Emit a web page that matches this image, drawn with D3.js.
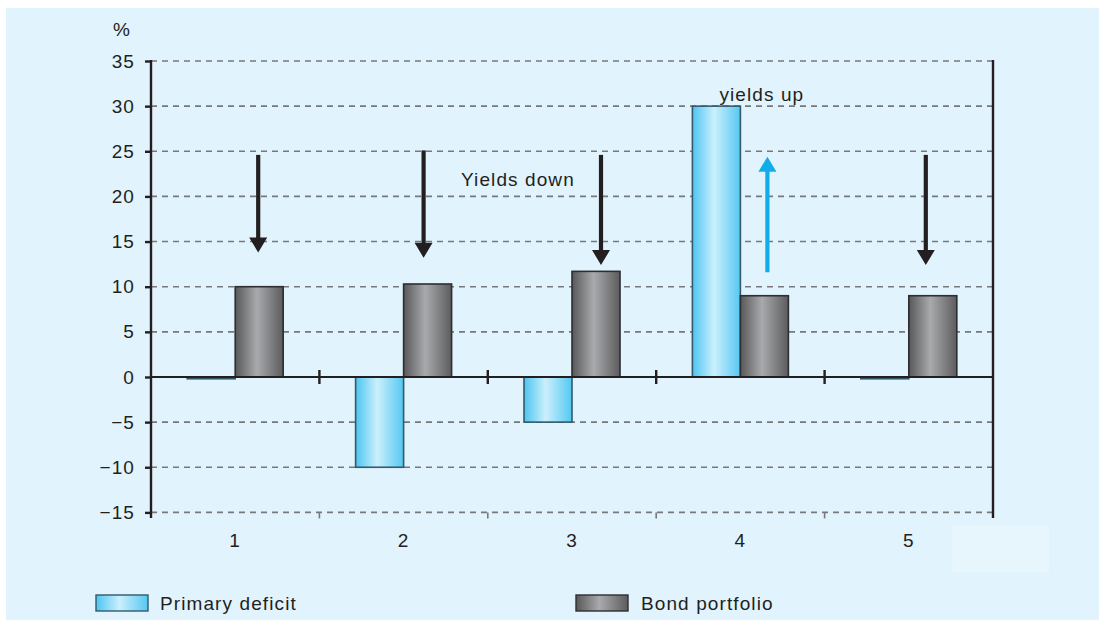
<!DOCTYPE html>
<html>
<head>
<meta charset="utf-8">
<script src="https://cdn.jsdelivr.net/npm/d3@7/dist/d3.min.js"></script>
<style>
  html, body { margin: 0; padding: 0; background: #ffffff; }
  svg { display: block; font-family: "Liberation Sans", Arial, Helvetica, sans-serif; }
  svg text { letter-spacing: 1.1px; }
</style>
</head>
<body>
<svg id="chart" width="1099" height="620"></svg>
<script>
// Scenario numbers (per cent)
const categories = ["1", "2", "3", "4", "5"];
const seriesNames = ["Primary deficit", "Bond portfolio"];
const primaryDeficit = [-0.2, -10, -5, 30, -0.2];
const bondPortfolio = [10, 10.3, 11.7, 9, 9];
const yTicks = [35, 30, 25, 20, 15, 10, 5, 0, -5, -10, -15];

// Yield-direction arrows: category, horizontal shift inside band (px), from value, to value
const downArrows = [
  { cat: "1", dx: 23, from: 24.6, to: 13.8 },
  { cat: "2", dx: 20, from: 25.1, to: 13.2 },
  { cat: "3", dx: 29, from: 24.6, to: 12.4 },
  { cat: "5", dx: 17, from: 24.6, to: 12.4 }
];
const upArrows = [
  { cat: "4", dx: 27, from: 11.6, to: 24.4 }
];
const notes = [
  { text: "Yields down", cat: "3", dx: -111, value: 21.2 },
  { text: "yields up", cat: "4", dx: -21, value: 30.6 }
];

const FONT = 19;
const svg = d3.select("#chart");
const defs = svg.append("defs");

function addGradient(id, edgeL, mid, edgeR) {
  const g = defs.append("linearGradient").attr("id", id)
    .attr("x1", "0%").attr("x2", "100%").attr("y1", "0%").attr("y2", "0%");
  g.append("stop").attr("offset", "0%").attr("stop-color", edgeL);
  g.append("stop").attr("offset", "45%").attr("stop-color", mid);
  g.append("stop").attr("offset", "100%").attr("stop-color", edgeR);
}
addGradient("gradBlue", "#4cc5f1", "#cbeffc", "#55c8f2");
addGradient("gradGray", "#58585a", "#a9aaad", "#5c5c5e");

const fills = ["url(#gradBlue)", "url(#gradGray)"];
const borders = ["#33596a", "#2e2e30"];

// background panel
svg.append("rect").attr("x", 6).attr("y", 8).attr("width", 1093).attr("height", 612)
  .attr("fill", "#e1f3fd");
svg.append("rect").attr("x", 952).attr("y", 526).attr("width", 97).attr("height", 46)
  .attr("fill", "#e6f6fc");

const left = 151, right = 993;
const y = d3.scaleLinear().domain([-15, 35]).range([512.4, 61]);
const x0 = d3.scaleBand().domain(categories).range([left, right]).padding(0);
const groupW = 96;
const x1 = d3.scaleBand().domain(seriesNames).range([0, groupW]).padding(0);
const groupX = c => x0(c) + x0.bandwidth() / 2 - groupW / 2;

// dashed grid lines
svg.append("g").selectAll("line").data(yTicks.filter(v => v !== 0)).join("line")
  .attr("x1", left).attr("x2", right)
  .attr("y1", d => y(d)).attr("y2", d => y(d))
  .attr("stroke", "#77787b").attr("stroke-width", 1.6)
  .attr("stroke-dasharray", "6,5");

// y axis
const yAxis = d3.axisLeft(y).tickValues(yTicks).tickSize(6).tickPadding(10)
  .tickFormat(d => d < 0 ? "\u2212" + Math.abs(d) : d);
const ya = svg.append("g").attr("transform", `translate(${left},0)`).call(yAxis);
ya.select(".domain").remove();
ya.selectAll(".tick line").attr("stroke", "#231f20").attr("stroke-width", 2.4);
ya.selectAll(".tick text").attr("fill", "#231f20").attr("font-size", FONT)
  .attr("font-family", "Liberation Sans, Arial, sans-serif");

svg.append("line").attr("x1", left).attr("x2", left).attr("y1", y(35) - 1).attr("y2", 518)
  .attr("stroke", "#231f20").attr("stroke-width", 2.4);
svg.append("line").attr("x1", right).attr("x2", right).attr("y1", y(35) - 1).attr("y2", 518)
  .attr("stroke", "#231f20").attr("stroke-width", 2.4);

svg.append("text").attr("x", 122).attr("y", 36).attr("text-anchor", "middle")
  .attr("font-size", FONT).attr("fill", "#231f20").text("%");

// bars
const rows = categories.map((c, i) => ({ cat: c, values: [primaryDeficit[i], bondPortfolio[i]] }));
const grp = svg.append("g").selectAll("g").data(rows).join("g")
  .attr("transform", d => `translate(${groupX(d.cat)},0)`);
grp.selectAll("rect").data(d => d.values.map((v, k) => ({ v, k }))).join("rect")
  .attr("x", d => x1(seriesNames[d.k]))
  .attr("width", x1.bandwidth())
  .attr("y", d => y(Math.max(0, d.v)))
  .attr("height", d => Math.abs(y(d.v) - y(0)))
  .attr("fill", d => fills[d.k])
  .attr("stroke", d => borders[d.k]).attr("stroke-width", 1.6);

// zero axis and category separators
svg.append("line").attr("x1", left).attr("x2", right).attr("y1", y(0)).attr("y2", y(0))
  .attr("stroke", "#231f20").attr("stroke-width", 2.2);
const seps = categories.slice(1).map(c => x0(c));
svg.append("g").selectAll("line").data(seps).join("line")
  .attr("x1", d => d).attr("x2", d => d)
  .attr("y1", y(0) - 7).attr("y2", y(0) + 7)
  .attr("stroke", "#231f20").attr("stroke-width", 2.4);
svg.append("g").selectAll("line").data(seps).join("line")
  .attr("x1", d => d).attr("x2", d => d)
  .attr("y1", y(-15)).attr("y2", y(-15) + 6)
  .attr("stroke", "#77787b").attr("stroke-width", 1.6);

// category labels
svg.append("g").selectAll("text").data(categories).join("text")
  .attr("x", d => x0(d) + x0.bandwidth() / 2).attr("y", 547)
  .attr("text-anchor", "middle").attr("font-size", FONT).attr("fill", "#231f20")
  .text(d => d);

// arrows
function drawArrow(a, color) {
  const cx = x0(a.cat) + x0.bandwidth() / 2 + a.dx;
  const y1 = y(a.from), y2 = y(a.to);
  const dir = y2 > y1 ? 1 : -1;
  const headH = 15, headW = 9;
  svg.append("line").attr("x1", cx).attr("x2", cx).attr("y1", y1).attr("y2", y2 - dir * headH + dir)
    .attr("stroke", color).attr("stroke-width", 4.2);
  svg.append("path")
    .attr("d", `M${cx - headW},${y2 - dir * headH} L${cx + headW},${y2 - dir * headH} L${cx},${y2} Z`)
    .attr("fill", color);
}
downArrows.forEach(a => drawArrow(a, "#231f20"));
upArrows.forEach(a => drawArrow(a, "#12ade8"));

// notes
svg.append("g").selectAll("text").data(notes).join("text")
  .attr("x", d => x0(d.cat) + x0.bandwidth() / 2 + d.dx).attr("y", d => y(d.value))
  .attr("font-size", FONT).attr("fill", "#231f20").text(d => d.text);

// legend
const legendPos = [{ x: 96, tx: 160 }, { x: 576, tx: 641 }];
const lg = svg.append("g").selectAll("g").data(seriesNames).join("g");
lg.append("rect").attr("x", (d, i) => legendPos[i].x).attr("y", 595)
  .attr("width", 52).attr("height", 16)
  .attr("fill", (d, i) => fills[i]).attr("stroke", (d, i) => borders[i]).attr("stroke-width", 1.4);
lg.append("text").attr("x", (d, i) => legendPos[i].tx).attr("y", 610)
  .attr("font-size", FONT).attr("fill", "#231f20").text(d => d);
</script>
</body>
</html>
